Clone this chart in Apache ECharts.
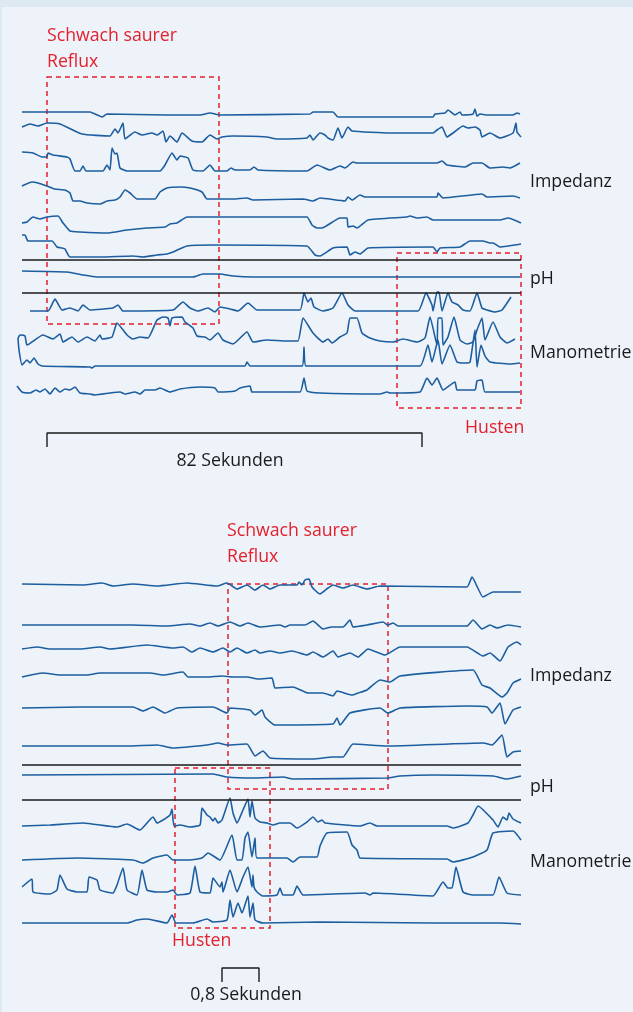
<!DOCTYPE html>
<html><head><meta charset="utf-8">
<script src="https://cdn.jsdelivr.net/npm/echarts@6/dist/echarts.min.js"></script>
<style>html,body{margin:0;padding:0;background:#eef3fa;}#c{width:633px;height:1012px;}</style>
</head><body><div id="c"></div>
<script>
// ===== DATA: each trace is [time, deflection] (deflection positive = upward) =====
// Panel 1 (82 s recording, time axis in recorder units)
const p1Imp1 = [[22,2],[90,2],[102,-3],[107,0],[167,-1],[200,-1],[210,1],[220,-1],[310,0],[313,2],[333,2],[338,-3],[433,-3],[435,0],[445,1],[448,4],[455,-1],[460,2],[462,-1],[473,0],[475,5],[477,-2],[480,0],[487,-1],[513,-1],[517,1],[520,0]];
const p1Imp2 = [[22,8],[30,11],[38,9],[47,12],[60,11],[82,1],[110,-1],[115,6],[118,2],[123,12],[125,-4],[135,3],[142,0],[152,2],[157,0],[163,4],[166,-7],[170,-1],[177,-7],[182,2],[192,-6],[202,-7],[210,0],[217,-4],[222,-2],[233,-1],[267,-2],[277,-4],[307,-3],[310,0],[313,-5],[320,2],[325,0],[328,-3],[333,-5],[338,7],[342,-3],[348,8],[352,4],[390,2],[433,2],[437,5],[442,8],[447,-2],[453,2],[463,9],[468,7],[475,8],[480,5],[482,-2],[490,2],[500,-3],[513,2],[516,12],[517,3],[521,-2]];
const p1Imp3 = [[22,19],[33,18],[42,14],[47,14],[48,18],[53,16],[67,14],[70,12],[75,0],[80,0],[83,5],[86,0],[103,0],[107,6],[110,1],[112,23],[115,17],[117,18],[120,3],[127,0],[160,0],[165,6],[172,18],[177,11],[180,15],[188,13],[193,1],[203,0],[210,6],[215,0],[227,0],[231,3],[235,1],[250,1],[254,4],[258,1],[307,0],[317,6],[330,1],[340,5],[345,3],[353,9],[357,8],[437,8],[442,10],[447,6],[465,4],[473,8],[482,8],[490,3],[503,4],[510,3],[520,8]];
const p1Imp4 = [[22,14],[32,18],[38,17],[47,14],[55,11],[65,10],[70,7],[73,-1],[80,-1],[87,-3],[100,-4],[107,-1],[115,0],[120,3],[125,10],[130,7],[137,1],[155,1],[160,8],[167,12],[180,13],[190,12],[202,8],[207,1],[233,1],[247,2],[253,0],[303,1],[313,-1],[320,2],[345,-1],[348,3],[352,0],[360,5],[365,3],[437,3],[438,7],[443,2],[482,6],[487,3],[513,4],[520,2]];
const p1Imp5 = [[22,9],[27,10],[33,15],[40,13],[47,15],[58,16],[63,9],[70,1],[80,0],[107,-1],[127,2],[147,4],[165,5],[170,8],[177,9],[187,15],[220,15],[307,15],[312,7],[317,4],[322,4],[340,14],[347,14],[348,5],[353,6],[357,4],[368,12],[407,15],[410,16],[417,14],[427,15],[433,12],[500,12],[508,14],[521,9]];
const p1Imp6 = [[22,21],[25,21],[28,15],[52,15],[57,9],[62,8],[65,7],[70,-1],[100,-1],[133,0],[143,-1],[157,1],[167,2],[173,4],[187,10],[213,11],[307,10],[315,1],[320,0],[333,8],[347,9],[350,1],[355,4],[360,2],[368,8],[433,9],[437,4],[440,8],[460,9],[470,15],[483,15],[490,13],[493,13],[500,9],[521,12]];
const p1PH = [[22,6],[67,5],[83,2],[97,0],[193,0],[203,3],[220,3],[233,1],[253,0],[520,0]];
const p1Man1 = [[30,0],[48,0],[55,12],[62,1],[70,3],[78,0],[83,6],[90,1],[113,3],[118,6],[123,0],[173,1],[183,9],[190,3],[198,0],[208,3],[215,-1],[220,4],[230,2],[238,0],[248,8],[257,1],[300,1],[304,18],[308,9],[311,13],[314,4],[323,0],[333,3],[342,18],[348,6],[355,0],[418,0],[426,18],[432,6],[433,0],[437,19],[439,19],[442,0],[448,18],[452,9],[458,6],[463,1],[470,0],[477,18],[482,3],[487,1],[495,-1],[502,1],[511,14]];
const p1Man2 = [[18,3],[20,6],[25,5],[27,-4],[43,6],[53,2],[60,7],[63,-1],[72,4],[78,-1],[87,4],[95,0],[100,6],[102,2],[112,4],[117,18],[127,6],[133,2],[140,4],[148,3],[157,21],[163,24],[168,23],[170,15],[172,23],[182,24],[185,19],[193,13],[197,5],[205,4],[210,1],[218,8],[223,1],[233,-3],[247,9],[253,-1],[267,1],[287,0],[298,0],[303,23],[313,8],[323,-1],[328,2],[332,-2],[340,4],[347,8],[350,23],[357,23],[362,8],[370,3],[380,0],[393,-1],[403,2],[417,-1],[425,3],[430,24],[437,-4],[438,23],[442,23],[443,-4],[448,4],[454,24],[460,1],[467,-3],[473,-1],[477,11],[482,23],[485,1],[493,19],[500,4],[507,-2],[515,2]];
const p1Man3 = [[18,28],[19,16],[22,1],[27,6],[30,3],[34,8],[38,2],[42,0],[90,-1],[92,-2],[95,0],[245,0],[247,4],[250,0],[302,0],[304,19],[306,0],[420,0],[428,21],[432,4],[438,26],[442,2],[450,21],[457,4],[465,3],[470,4],[475,36],[477,-1],[481,21],[485,10],[490,4],[510,2],[520,3]];
const p1Man4 = [[17,6],[22,0],[30,-1],[36,2],[40,0],[45,3],[50,-2],[55,4],[60,0],[65,3],[70,2],[75,5],[80,-1],[90,-2],[95,-3],[110,-1],[120,0],[125,-2],[135,0],[140,-2],[145,2],[155,2],[160,4],[170,0],[180,3],[200,5],[215,4],[218,0],[235,1],[240,4],[250,6],[252,0],[300,0],[304,14],[307,1],[320,-1],[380,-2],[387,0],[390,-1],[420,0],[427,14],[432,7],[437,14],[443,2],[455,10],[457,2],[475,2],[477,11],[482,12],[485,0],[520,0]];

// Panel 2 (0.8 s scale)
const p2Imp1 = [[22,1],[83,0],[102,2],[113,-1],[133,1],[157,-1],[187,2],[217,-1],[227,2],[237,-4],[247,0],[255,-5],[263,0],[270,-4],[280,0],[297,0],[299,3],[302,0],[305,5],[309,6],[312,-2],[320,-9],[328,-3],[333,0],[343,-3],[353,0],[367,-4],[380,-1],[467,-2],[472,8],[483,-12],[493,-7],[507,-7],[521,-7]];
const p2Imp2 = [[22,0],[133,0],[167,-1],[190,1],[200,-1],[210,2],[218,-1],[230,3],[240,-1],[248,2],[260,-2],[280,0],[285,-2],[290,0],[305,0],[313,4],[323,-4],[332,-2],[343,-2],[350,5],[353,-2],[367,0],[383,3],[388,0],[393,2],[398,-1],[467,-1],[473,5],[482,-4],[490,0],[497,-3],[508,0],[521,-2]];
const p2Imp3 = [[22,0],[37,2],[50,0],[80,0],[100,2],[110,0],[147,4],[173,1],[183,2],[192,-3],[200,1],[213,-3],[223,1],[230,-3],[237,1],[247,-4],[255,-1],[260,-4],[270,-2],[280,-4],[292,-2],[307,-6],[313,-3],[323,-8],[333,-2],[338,-8],[350,-4],[358,-8],[368,0],[385,-6],[400,2],[467,2],[483,-7],[490,-4],[500,-12],[508,2],[517,7],[521,4]];
const p2Imp4 = [[22,0],[43,4],[60,2],[87,2],[100,4],[150,4],[163,2],[183,5],[188,0],[207,0],[222,1],[233,0],[247,0],[258,-2],[272,-1],[275,-11],[293,-10],[308,-16],[323,-16],[333,-19],[337,-14],[352,-18],[358,-16],[367,-13],[380,-3],[390,-5],[400,1],[473,7],[482,-8],[490,-11],[502,-20],[507,-16],[513,-6],[521,-2]];
const p2Imp5 = [[22,0],[80,1],[133,1],[143,-3],[153,1],[165,-5],[177,0],[213,1],[227,-5],[230,0],[250,-2],[255,-7],[262,-2],[265,-9],[275,-17],[333,-16],[337,-10],[340,-17],[350,-5],[380,0],[388,-5],[400,0],[467,2],[487,1],[492,-5],[500,5],[505,-16],[513,-2],[521,1]];
const p2Imp6 = [[22,0],[127,0],[157,1],[173,-2],[207,1],[218,3],[227,1],[247,2],[255,-10],[263,-5],[270,-12],[313,-13],[333,-11],[343,-11],[353,2],[387,0],[483,3],[492,1],[502,11],[507,-11],[513,-6],[521,-5]];
const p2PH = [[22,1],[213,2],[227,-1],[253,-2],[283,-1],[293,-3],[387,-2],[400,0],[433,1],[493,0],[507,-3],[521,0]];
const p2Man1 = [[22,-1],[50,0],[83,2],[117,-2],[127,1],[140,-5],[153,8],[157,2],[163,5],[170,10],[172,16],[174,-1],[180,0],[190,-2],[200,0],[202,17],[207,10],[210,8],[213,4],[215,7],[218,2],[222,5],[230,27],[233,12],[237,2],[243,15],[248,26],[250,8],[252,24],[255,7],[260,3],[267,2],[273,0],[280,2],[290,2],[297,-3],[307,3],[313,8],[318,3],[322,5],[325,2],[360,-1],[370,2],[377,-1],[447,-1],[453,-3],[468,2],[473,10],[478,19],[493,5],[498,-2],[503,8],[507,5],[509,12],[513,6],[521,2]];
const p2Man2 = [[22,-1],[77,1],[133,-1],[143,-4],[153,1],[167,4],[173,-1],[190,-1],[202,1],[208,6],[220,-1],[232,24],[237,-1],[242,-1],[245,21],[248,27],[252,2],[255,21],[257,1],[287,1],[293,-3],[300,2],[317,2],[320,13],[327,26],[347,27],[352,14],[357,9],[360,1],[447,0],[453,-3],[473,2],[487,9],[493,26],[513,28],[521,19]];
const p2Man3 = [[22,6],[32,14],[33,1],[50,-1],[57,3],[60,18],[67,4],[77,1],[87,1],[89,16],[97,13],[100,3],[113,0],[117,8],[123,25],[127,3],[137,-2],[142,23],[147,3],[157,1],[167,1],[173,3],[177,-2],[190,0],[195,27],[200,1],[210,0],[213,15],[220,6],[222,11],[223,1],[230,23],[237,1],[243,16],[248,26],[252,6],[253,18],[254,6],[257,1],[263,-3],[277,-2],[280,5],[283,-2],[293,-2],[297,7],[303,-2],[365,0],[370,-2],[373,0],[433,-3],[443,11],[448,5],[452,5],[456,26],[463,1],[473,-2],[493,-2],[499,16],[507,0],[521,-2]];
const p2Man4 = [[22,0],[127,0],[137,3],[147,4],[167,0],[172,8],[176,0],[193,0],[207,4],[213,1],[227,3],[230,23],[233,6],[238,20],[242,10],[248,27],[250,6],[253,20],[255,3],[263,0],[320,1],[433,0],[500,0],[521,-1]];

// Labels
const channelLabels = ['Impedanz', 'pH', 'Manometrie'];
const refluxLabel = ['Schwach saurer', 'Reflux'];
const coughLabel = 'Husten';
const scaleLabels = ['82 Sekunden', '0,8 Sekunden'];

// ===== LAYOUT (not data) =====
const BLUE = '#1c5e9f', RED = '#e3212d', INK = '#1a1a1a';
const FONT = '"Open Sans", "Noto Sans", sans-serif';
const panels = [
  { top: 0, traces: [p1Imp1,p1Imp2,p1Imp3,p1Imp4,p1Imp5,p1Imp6,p1PH,p1Man1,p1Man2,p1Man3,p1Man4],
    bases: [114,135,171,200,232,256,277,311,341,366,392], seps: [260,293],
    reflux: [[47,77],[219,324]], cough: [[397,253],[521,408]], scale: [47,422,433,447] },
  { top: 506, traces: [p2Imp1,p2Imp2,p2Imp3,p2Imp4,p2Imp5,p2Imp6,p2PH,p2Man1,p2Man2,p2Man3,p2Man4],
    bases: [79,119,143,171,202,240,270,319,353,387,417], seps: [259,294],
    reflux: [[228,78],[388,283]], cough: [[175,262],[270,422]], scale: [222,259,462,476] }
];

const grid = [], xAxis = [], yAxis = [], series = [];
panels.forEach((p, i) => {
  grid.push({ left: 0, top: p.top, width: 633, height: 506 });
  xAxis.push({ gridIndex: i, type: 'value', min: 0, max: 633, show: false });
  yAxis.push({ gridIndex: i, type: 'value', min: 0, max: 506, inverse: true, show: false });
  p.traces.forEach((tr, k) => {
    series.push({ type: 'line', xAxisIndex: i, yAxisIndex: i, showSymbol: false, silent: true,
      smooth: 0.15, clip: false, lineStyle: { color: BLUE, width: 1.6 },
      data: tr.map(([t, d]) => [t, p.bases[k] - d]) });
  });
  // separators, boxes, scale bar
  series.push({ type: 'line', xAxisIndex: i, yAxisIndex: i, data: [], silent: true,
    markLine: { symbol: 'none', silent: true, label: { show: false },
      lineStyle: { color: INK, width: 1.6, type: 'solid' },
      data: p.seps.map(y => [{ coord: [22, y] }, { coord: [521, y] }]) },
    markArea: { silent: true, itemStyle: { color: 'rgba(0,0,0,0)', borderColor: RED, borderWidth: 1.5, borderType: [5, 4] },
      data: [p.reflux, p.cough].map(b => [{ coord: b[0] }, { coord: b[1] }]) } });
  const s = p.scale;
  series.push({ type: 'line', xAxisIndex: i, yAxisIndex: i, showSymbol: false, silent: true,
    lineStyle: { color: INK, width: 1.4 }, data: [[s[0], s[3]], [s[0], s[2]], [s[1], s[2]], [s[1], s[3]]] });
});

const txt = (x, y, text, color, align) => ({ type: 'text', x, y,
  style: { text, fill: color, font: `17.7px ${FONT}`, textAlign: align || 'left', textVerticalAlign: 'middle' } });

const graphic = [
  { type: 'rect', shape: { x: 0, y: 0, width: 633, height: 7 }, style: { fill: '#dce8f2' } },
  { type: 'rect', shape: { x: 0, y: 0, width: 2, height: 1012 }, style: { fill: '#dce8f2' } },
  txt(47, 36, refluxLabel[0], RED), txt(47, 62, refluxLabel[1], RED),
  txt(530, 182, channelLabels[0], INK), txt(530, 279, channelLabels[1], INK), txt(530, 353, channelLabels[2], INK),
  txt(465, 428, coughLabel, RED), txt(230, 461, scaleLabels[0], INK, 'center'),
  txt(227, 531, refluxLabel[0], RED), txt(227, 557, refluxLabel[1], RED),
  txt(530, 676, channelLabels[0], INK), txt(530, 787, channelLabels[1], INK), txt(530, 862, channelLabels[2], INK),
  txt(172, 941, coughLabel, RED), txt(246, 995, scaleLabels[1], INK, 'center')
];

const chart = echarts.init(document.getElementById('c'), null, { renderer: 'canvas' });
chart.setOption({ backgroundColor: '#eef3fa', animation: false, grid, xAxis, yAxis, series, graphic });
</script></body></html>
